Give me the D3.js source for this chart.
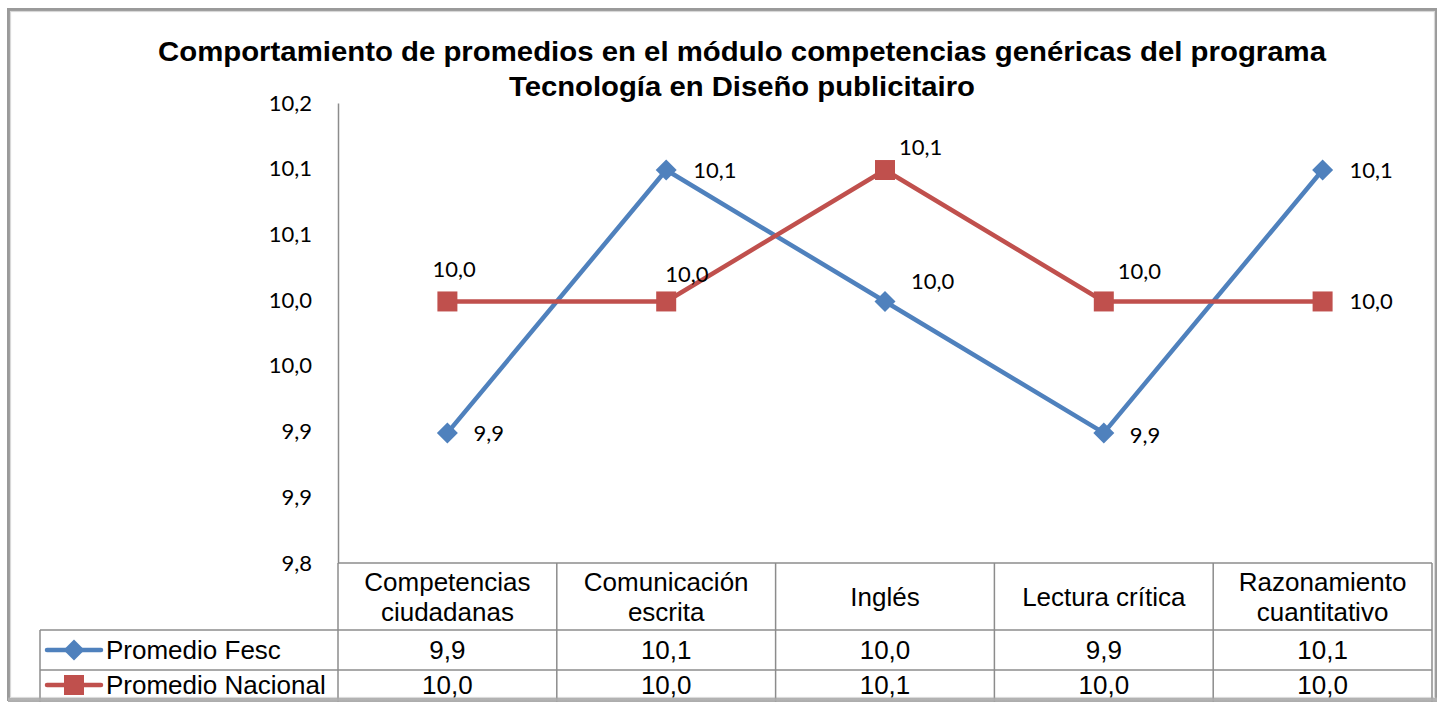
<!DOCTYPE html>
<html>
<head>
<meta charset="utf-8">
<script src="https://cdn.jsdelivr.net/npm/d3@7"></script>
<style>
  html, body { margin: 0; padding: 0; background: #ffffff; }
  svg { display: block; }
</style>
</head>
<body>
<svg id="chart" width="1437" height="702"></svg>
<script>
// ---- data ----
const titleLines = [
  "Comportamiento de promedios en el módulo competencias genéricas del programa",
  "Tecnología en Diseño publicitairo"
];
const categories = [
  "Competencias ciudadanas",
  "Comunicación escrita",
  "Inglés",
  "Lectura crítica",
  "Razonamiento cuantitativo"
];
const seriesNames = ["Promedio Fesc", "Promedio Nacional"];
const fescValues = [9.949, 10.149, 10.049, 9.949, 10.149];
const nacionalValues = [10.049, 10.049, 10.149, 10.049, 10.049];
const yTickValues = [9.85, 9.90, 9.95, 10.00, 10.05, 10.10, 10.15, 10.20];
const yTickLabels = ["9,8", "9,9", "9,9", "10,0", "10,0", "10,1", "10,1", "10,2"];

// ---- label placement (offsets from each point) ----
const fescLabelOffsets = [[26, 0], [27, 0], [26, -20], [26, 2], [27, 0]];
const nacionalLabelOffsets = [[-15, -32], [-1, -27], [14, -23], [14, -30], [27, 0]];

// ---- layout ----
const W = 1437, H = 702;
const plot = { left: 338, right: 1432, top: 103, bottom: 563 };
const tableRows = [563, 630, 670, 712];
const rowCenters = [650, 685];
const tableLeft = 40;
const blue = "#4F81BD", red = "#C0504D", gridGray = "#8C8C8C";
const numFont = "Lato, 'Open Sans', sans-serif";
const tableFont = "'Liberation Sans', Arial, sans-serif";
const fmt = v => v.toFixed(1).replace(".", ",");

const svg = d3.select("#chart");

const x = d3.scaleBand().domain(categories).range([plot.left, plot.right]).padding(0);
const y = d3.scaleLinear().domain([9.85, 10.20]).range([plot.bottom, plot.top]);
const cx = c => x(c) + x.bandwidth() / 2;

// frame
svg.append("rect").attr("x", 0).attr("y", 0).attr("width", W).attr("height", H).attr("fill", "#fff");
const frame = svg.append("g");
frame.append("rect").attr("x", 8.5).attr("y", 9.5).attr("width", 1428).attr("height", 690)
  .attr("fill", "none").attr("stroke", "#9a9a9a").attr("stroke-width", 3);
frame.append("rect").attr("x", 10.5).attr("y", 11.5).attr("width", 1424).attr("height", 686)
  .attr("fill", "none").attr("stroke", "#d8d8d8").attr("stroke-width", 1.2);

// title
const titleWidths = [1168, 466];
svg.append("g").selectAll("text").data(titleLines).join("text")
  .attr("x", 742).attr("y", (d, i) => 61 + i * 35)
  .attr("text-anchor", "middle")
  .attr("font-family", tableFont).attr("font-weight", "bold").attr("font-size", 27)
  .attr("textLength", (d, i) => titleWidths[i]).attr("lengthAdjust", "spacingAndGlyphs")
  .attr("fill", "#000").text(d => d);

// y axis
const yAxis = d3.axisLeft(y).tickValues(yTickValues).tickSize(0).tickPadding(26)
  .tickFormat((d, i) => yTickLabels[i]);
const yg = svg.append("g").attr("transform", `translate(${plot.left},0)`).call(yAxis);
yg.select(".domain").attr("stroke", gridGray).attr("stroke-width", 1.5);
yg.selectAll("text").attr("font-family", numFont).attr("font-size", 22).attr("fill", "#000");

// data table grid
const table = svg.append("g").attr("stroke", gridGray).attr("stroke-width", 1.5);
table.append("line").attr("x1", plot.left).attr("x2", plot.right).attr("y1", tableRows[0]).attr("y2", tableRows[0]);
[tableRows[1], tableRows[2]].forEach(r =>
  table.append("line").attr("x1", tableLeft).attr("x2", plot.right).attr("y1", r).attr("y2", r));
const bounds = categories.map(c => x(c)).concat([plot.right]);
table.selectAll("line.v").data(bounds).join("line").attr("class", "v")
  .attr("x1", d => d).attr("x2", d => d).attr("y1", tableRows[0]).attr("y2", tableRows[3]);
table.append("line").attr("x1", tableLeft).attr("x2", tableLeft).attr("y1", tableRows[1]).attr("y2", tableRows[3]);

// category headers (wrapped to the column width)
const headG = svg.append("g").attr("font-family", tableFont).attr("font-size", 26).attr("fill", "#000");
categories.forEach(c => {
  const t = headG.append("text").attr("text-anchor", "middle").attr("x", cx(c));
  const words = c.split(" ");
  let lines = [], cur = [];
  words.forEach(w => {
    const test = cur.concat([w]).join(" ");
    t.text(test);
    if (t.node().getComputedTextLength() > x.bandwidth() - 10 && cur.length) {
      lines.push(cur.join(" ")); cur = [w];
    } else cur.push(w);
  });
  lines.push(cur.join(" "));
  t.text(null);
  const mid = (tableRows[0] + tableRows[1]) / 2;
  const lh = 30;
  lines.forEach((ln, i) => {
    t.append("tspan").attr("x", cx(c))
      .attr("y", mid + (i - (lines.length - 1) / 2) * lh)
      .attr("dy", "0.36em").text(ln);
  });
});

// table value rows + legend keys
const rows = [
  { name: seriesNames[0], values: fescValues, color: blue, marker: "diamond" },
  { name: seriesNames[1], values: nacionalValues, color: red, marker: "square" }
];
const markerPath = (type) => type === "diamond"
  ? "M0,-10.5L10.5,0L0,10.5L-10.5,0Z"
  : "M-10,-10H10V10H-10Z";

rows.forEach((r, i) => {
  const yc = rowCenters[i];
  const g = svg.append("g");
  g.append("line").attr("x1", 47).attr("x2", 101).attr("y1", yc).attr("y2", yc)
    .attr("stroke", r.color).attr("stroke-width", 4.5).attr("stroke-linecap", "round");
  g.append("path").attr("d", markerPath(r.marker)).attr("transform", `translate(74,${yc})`)
    .attr("fill", r.color);
  g.append("text").attr("x", 106).attr("y", yc).attr("dy", "0.36em")
    .attr("font-family", tableFont).attr("font-size", 26).attr("fill", "#000").text(r.name);
  g.selectAll("text.v").data(r.values).join("text").attr("class", "v")
    .attr("x", (d, j) => cx(categories[j])).attr("y", yc).attr("dy", "0.36em")
    .attr("text-anchor", "middle")
    .attr("font-family", tableFont).attr("font-size", 26).attr("fill", "#000")
    .text(d => fmt(d));
});

// series lines, markers and data labels
const line = d3.line().x((d, j) => cx(categories[j])).y(d => y(d));
const series = [
  { values: fescValues, color: blue, marker: "diamond", offsets: fescLabelOffsets },
  { values: nacionalValues, color: red, marker: "square", offsets: nacionalLabelOffsets }
];
series.forEach(s => {
  svg.append("path").datum(s.values).attr("d", line)
    .attr("fill", "none").attr("stroke", s.color).attr("stroke-width", 4.5)
    .attr("stroke-linejoin", "round");
});
series.forEach(s => {
  const g = svg.append("g");
  g.selectAll("path").data(s.values).join("path")
    .attr("d", markerPath(s.marker))
    .attr("transform", (d, j) => `translate(${cx(categories[j])},${y(d)})`)
    .attr("fill", s.color);
  g.selectAll("text").data(s.values).join("text")
    .attr("x", (d, j) => cx(categories[j]) + s.offsets[j][0])
    .attr("y", (d, j) => y(d) + s.offsets[j][1])
    .attr("dy", "0.36em")
    .attr("font-family", numFont).attr("font-size", 22).attr("fill", "#000")
    .text(d => fmt(d));
});

// soft bottom edge of the frame
const grad = svg.append("defs").append("linearGradient").attr("id", "edge")
  .attr("x1", 0).attr("x2", 0).attr("y1", 0).attr("y2", 1);
grad.append("stop").attr("offset", 0).attr("stop-color", "#ffffff").attr("stop-opacity", 0);
grad.append("stop").attr("offset", 1).attr("stop-color", "#9a9a9a").attr("stop-opacity", 1);
svg.append("rect").attr("x", 8).attr("y", 697).attr("width", 1429).attr("height", 5).attr("fill", "url(#edge)");
</script>
</body>
</html>
